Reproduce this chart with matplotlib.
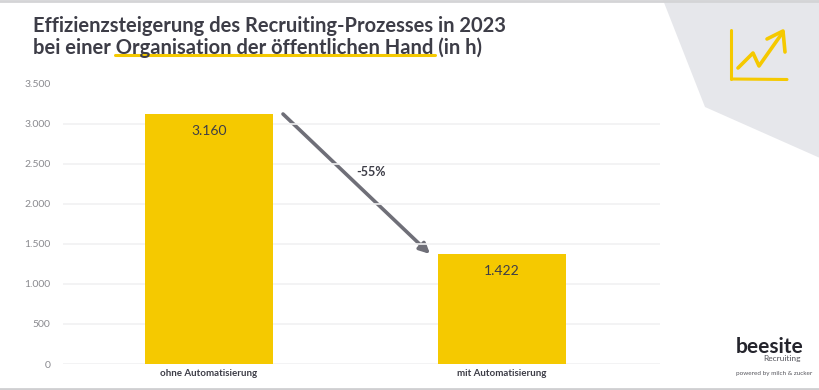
#!/usr/bin/env python3
import matplotlib
matplotlib.use('Agg')
import matplotlib.pyplot as plt
from matplotlib.patches import Polygon, FancyArrowPatch

# Data
categories = ['ohne Automatisierung', 'mit Automatisierung']
bar_heights = [3115, 1370]  # as drawn, the printed labels are a bit higher
bar_labels = ['3.160', '1.422']
y_ticks = [0, 500, 1000, 1500, 2000, 2500, 3000, 3500]
y_tick_labels = ['0', '500', '1.000', '1.500', '2.000', '2.500', '3.000', '3.500']
title_lines = ['Effizienzsteigerung des Recruiting-Prozesses in 2023',
               'bei einer Organisation der öffentlichen Hand (in h)']
change_label = '-55%'

YELLOW = '#f5c900'
DARK = '#3d3d47'
GREY = '#6f6f78'
W, H = 820, 390

plt.rcParams['font.family'] = ['Lato', 'DejaVu Sans']

fig = plt.figure(figsize=(W / 100, H / 100), dpi=100, facecolor='white')

# overlay in pixel coordinates for the decoration (y pointing down)
bg = fig.add_axes([0, 0, 1, 1], zorder=0)
bg.set_xlim(0, W)
bg.set_ylim(H, 0)
bg.axis('off')
bg.add_patch(Polygon([(663, 0), (705, 107), (820, 158), (820, 0)], color='#e6e7eb', lw=0))
bg.plot([0, W], [0.5, 0.5], color='#d4d4d6', lw=2)
bg.plot([0, W], [389, 389], color='#cfcfd1', lw=2)

# chart
ax = fig.add_axes([63 / W, 1 - 364 / H, (660 - 63) / W, (364 - 83.5) / H], zorder=1)
ax.patch.set_alpha(0)
ax.bar(range(len(categories)), bar_heights, width=0.437, color=YELLOW, zorder=2)
ax.set_xlim(-0.498, 1.539)
ax.set_ylim(0, 3500)
ax.set_yticks(y_ticks)
ax.set_yticklabels(y_tick_labels, fontsize=7.5, color='#8a8a8f')
ax.set_xticks(range(len(categories)))
ax.set_xticklabels(categories, fontsize=7, fontweight='bold', color=DARK)
ax.tick_params(axis='both', length=0)
ax.tick_params(axis='y', pad=9)
ax.tick_params(axis='x', pad=3.5)
ax.grid(axis='y', color='#f1f1f2', lw=1.2, zorder=0)
ax.set_axisbelow(True)
for s in ax.spines.values():
    s.set_visible(False)

for i, label in enumerate(bar_labels):
    ax.annotate(label, (i, bar_heights[i]), xytext=(0, -8), textcoords='offset points',
                ha='center', va='top', fontsize=10, color=DARK)

# title
bg.plot([115, 435], [55, 55], color=YELLOW, lw=2.2, solid_capstyle='round')
for line, y in zip(title_lines, [26, 48]):
    bg.text(33, y, line, fontsize=14.5, fontweight='bold', color=DARK, va='center', ha='left')

# arrow and change
bg.add_patch(FancyArrowPatch((283, 114), (430, 254), arrowstyle='-|>', mutation_scale=15,
                             color=GREY, lw=2.6, shrinkA=0, shrinkB=0, zorder=3))
bg.text(371, 172, change_label, fontsize=9, fontweight='bold', color=DARK, ha='center', va='center')

# icon
bg.plot([731.5, 731.5], [30, 79], color=YELLOW, lw=2.2, solid_capstyle='round')
bg.plot([731.5, 787], [79, 79.5], color=YELLOW, lw=2.2, solid_capstyle='round')
bg.plot([738, 753, 759, 783], [68, 53, 66, 32], color=YELLOW, lw=2.6, solid_capstyle='round')
bg.plot([767, 783, 785], [39, 31, 52], color=YELLOW, lw=2.6, solid_capstyle='round')

# logo
bg.text(736, 347, 'beesite', fontsize=15, fontweight='bold', color='#24242c', ha='left', va='center')
bg.text(801, 359, 'Recruiting', fontsize=6, color='#55555c', ha='right', va='center')
bg.text(736, 373, 'powered by milch & zucker', fontsize=4.6, color='#55555c', ha='left', va='center')

fig.savefig('out.png', dpi=100)
